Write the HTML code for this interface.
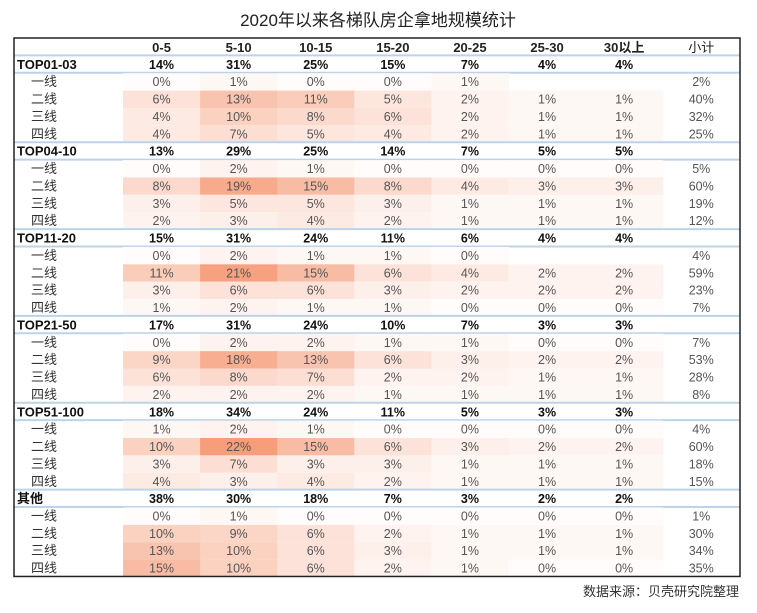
<!DOCTYPE html>
<html><head><meta charset="utf-8"><style>
body{margin:0;background:#fff;width:757px;height:608px;overflow:hidden;font-family:"Liberation Sans","Noto Sans CJK SC",sans-serif}
svg text{font-family:"Liberation Sans","Noto Sans CJK SC",sans-serif}
</style></head><body>
<svg id="chart" width="757" height="608">
<text x="378" y="26" text-anchor="middle" font-size="17" fill="#222">2020年以来各梯队房企拿地规模统计</text>
<text x="739" y="596" text-anchor="end" font-size="13" fill="#333">数据来源：贝壳研究院整理</text>
</svg>
<script>
const columns=["0-5","5-10","10-15","15-20","20-25","25-30","30以上","小计"];
const groups=["TOP01-03","TOP04-10","TOP11-20","TOP21-50","TOP51-100","其他"];
const tiers=["一线","二线","三线","四线"];
const groupTotals=[[14,31,25,15,7,4,4],[13,29,25,14,7,5,5],[15,31,24,11,6,4,4],[17,31,24,10,7,3,3],[18,34,24,11,5,3,3],[38,30,18,7,3,2,2]];
const tierValues=[
[[0,1,0,0,1,null,null,2],[6,13,11,5,2,1,1,40],[4,10,8,6,2,1,1,32],[4,7,5,4,2,1,1,25]],
[[0,2,1,0,0,0,0,5],[8,19,15,8,4,3,3,60],[3,5,5,3,1,1,1,19],[2,3,4,2,1,1,1,12]],
[[0,2,1,1,0,null,null,4],[11,21,15,6,4,2,2,59],[3,6,6,3,2,2,2,23],[1,2,1,1,0,0,0,7]],
[[0,2,2,1,1,0,0,7],[9,18,13,6,3,2,2,53],[6,8,7,2,2,1,1,28],[2,2,2,1,1,1,1,8]],
[[1,2,1,0,0,0,0,4],[10,22,15,6,3,2,2,60],[3,7,3,3,1,1,1,18],[4,3,4,2,1,1,1,15]],
[[0,1,0,0,0,0,0,1],[10,9,6,2,1,1,1,30],[13,10,6,3,1,1,1,34],[15,10,6,2,1,0,0,35]]];
const svg=document.getElementById('chart');
const NS='http://www.w3.org/2000/svg';
const L=14,R=740,T=38,RH=17.37,C0=123,CW=77.1;
const colX=i=>C0+CW*i;
const rowY=r=>T+RH*r;
function mk(tag,attrs,txt){const e=document.createElementNS(NS,tag);for(const k in attrs)e.setAttribute(k,attrs[k]);if(txt!==undefined)e.textContent=txt;svg.appendChild(e);return e;}
function color(v){const t=Math.min(v/22,1)*0.92+0.03;const c=[245,152,115];return `rgb(${Math.round(255+(c[0]-255)*t)},${Math.round(255+(c[1]-255)*t)},${Math.round(255+(c[2]-255)*t)})`;}
columns.forEach((c,i)=>{const t=mk('text',{x:colX(i)+CW/2,y:rowY(0)+14,'text-anchor':'middle','font-size':13,'font-weight':i<7?'bold':'normal',fill:'#222'},c);

});
let r=1;
groups.forEach((g,gi)=>{
 const l=mk('line',{x1:L,x2:R,y1:rowY(r),y2:rowY(r),stroke:'#bdd3ea','stroke-width':2});
 
 
 const gl=mk('text',{x:L+3,y:rowY(r)+13.5,'font-size':13,'font-weight':'bold',fill:'#111'},g);
 
 
 groupTotals[gi].forEach((v,i)=>{const t=mk('text',{x:colX(i)+CW/2,y:rowY(r)+13.5,'text-anchor':'middle','font-size':12.5,'font-weight':'bold',fill:'#111'},v+'%');
 
 });
 r++;
 const l2=mk('line',{x1:L,x2:R,y1:rowY(r),y2:rowY(r),stroke:'#bdd3ea','stroke-width':2});
 
 
 tierValues[gi].forEach((row,ti)=>{
  const tl=mk('text',{x:L+17,y:rowY(r)+13.5,'font-size':13,fill:'#333'},tiers[ti]);
  
  
  row.forEach((v,i)=>{
   if(v===null)return;
   if(i<7){const rc=mk('rect',{x:colX(i),y:rowY(r)+0.5,width:CW+0.5,height:RH,fill:color(v)});
    
    }
   const t=mk('text',{x:colX(i)+CW/2,y:rowY(r)+13.5,'text-anchor':'middle','font-size':12.5,fill:'#555'},v+'%');
   
   
  });
  r++;
 });
});
const b=mk('rect',{x:L,y:T,width:R-L,height:rowY(r)-T,fill:'none',stroke:'#222','stroke-width':1.5});


</script>
</body></html>
